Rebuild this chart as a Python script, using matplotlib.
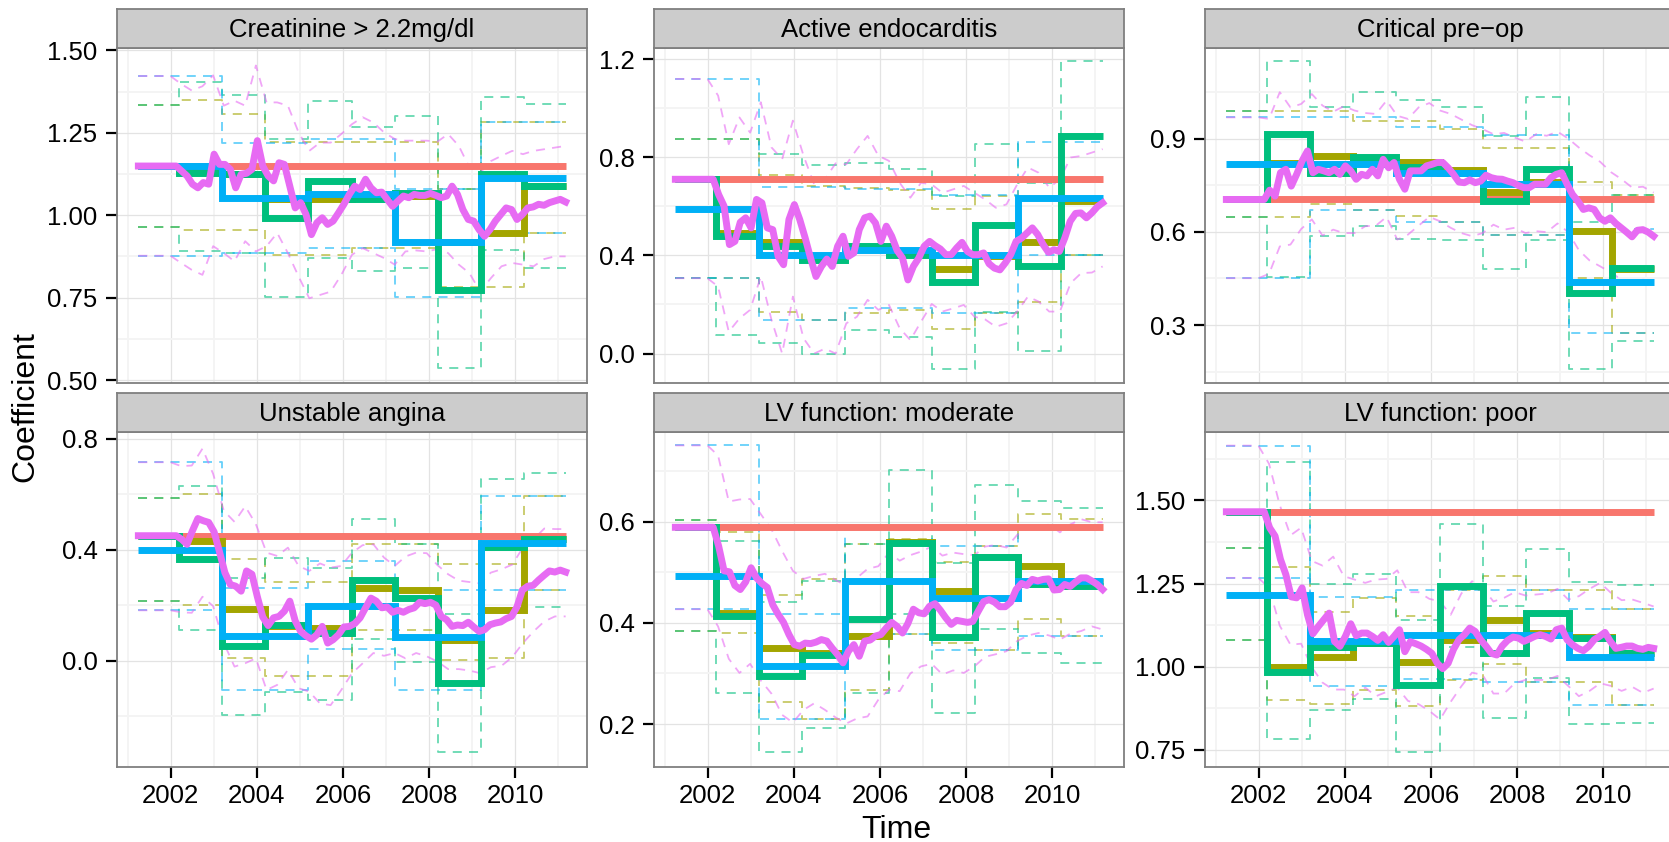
import numpy as np
import matplotlib
matplotlib.use('Agg')
import matplotlib.pyplot as plt

plt.rcParams['font.family'] = ['Liberation Sans', 'DejaVu Sans']

# time span of the monitoring data and the yearly refit dates
t_start, t_end = 2001.25, 2011.17
refits = [2001.25, 2002.2, 2003.2, 2004.2, 2005.2, 2006.2, 2007.2, 2008.2, 2009.2, 2010.2, 2011.17]

titles = ['Creatinine > 2.2mg/dl', 'Active endocarditis', 'Critical pre\u2212op',
          'Unstable angina', 'LV function: moderate', 'LV function: poor']

# constant (original) coefficient
red_level = [1.149, 0.710, 0.704, 0.45, 0.589, 1.466]

# step estimates, one value per refit period
olive = [
    [1.149, 1.144, 1.124, 1.048, 1.048, 1.053, 1.058, 0.918, 0.946, 1.088],
    [0.71, 0.491, 0.453, 0.396, 0.426, 0.41, 0.344, 0.396, 0.453, 0.62],
    [0.704, 0.82, 0.844, 0.83, 0.823, 0.80, 0.728, 0.76, 0.602, 0.48],
    [0.45, 0.43, 0.186, 0.123, 0.117, 0.262, 0.256, 0.075, 0.181, 0.437],
    [0.589, 0.42, 0.35, 0.34, 0.374, 0.56, 0.463, 0.53, 0.513, 0.48],
    [1.466, 1.0, 1.03, 1.07, 1.015, 1.08, 1.141, 1.1, 1.09, 1.04],
]
green = [
    [1.149, 1.129, 1.124, 0.992, 1.104, 1.048, 1.068, 0.773, 1.124, 1.088],
    [0.71, 0.481, 0.437, 0.38, 0.437, 0.403, 0.29, 0.522, 0.355, 0.885],
    [0.704, 0.914, 0.79, 0.839, 0.81, 0.79, 0.699, 0.801, 0.403, 0.483],
    [0.45, 0.365, 0.051, 0.129, 0.099, 0.292, 0.226, -0.082, 0.41, 0.437],
    [0.589, 0.413, 0.294, 0.337, 0.407, 0.558, 0.372, 0.531, 0.476, 0.473],
    [1.466, 0.985, 1.06, 1.07, 0.945, 1.244, 1.04, 1.161, 1.085, 1.04],
]
blue = [
    [1.149, 1.149, 1.053, 1.053, 1.063, 1.063, 0.918, 0.918, 1.114, 1.114],
    [0.587, 0.587, 0.403, 0.403, 0.423, 0.423, 0.403, 0.403, 0.635, 0.635],
    [0.817, 0.817, 0.817, 0.817, 0.788, 0.788, 0.753, 0.753, 0.44, 0.44],
    [0.399, 0.399, 0.087, 0.087, 0.198, 0.198, 0.085, 0.085, 0.425, 0.425],
    [0.493, 0.493, 0.314, 0.314, 0.483, 0.483, 0.45, 0.45, 0.483, 0.483],
    [1.217, 1.217, 1.076, 1.076, 1.096, 1.096, 1.096, 1.096, 1.03, 1.03],
]

# interval bounds of the step estimates
olive_hi = [
    [1.334, 1.35, 1.307, 1.221, 1.221, 1.221, 1.221, 1.08, 1.284, 1.284],
    [0.874, 0.874, 0.726, 0.683, 0.676, 0.666, 0.587, 0.642, 0.699, 0.7],
    [0.99, 0.99, 0.99, 0.955, 0.955, 0.93, 0.87, 0.87, 0.76, 0.72],
    [0.585, 0.6, 0.365, 0.284, 0.284, 0.419, 0.419, 0.347, 0.347, 0.592],
    [0.604, 0.58, 0.456, 0.486, 0.556, 0.566, 0.52, 0.552, 0.615, 0.605],
    [1.358, 1.3, 1.163, 1.207, 1.153, 1.232, 1.274, 1.232, 1.232, 1.173],
]
olive_lo = [
    [0.963, 0.956, 0.956, 0.88, 0.88, 0.9, 0.9, 0.782, 0.782, 0.946],
    [0.307, 0.307, 0.171, 0.137, 0.167, 0.178, 0.098, 0.164, 0.212, 0.403],
    [0.648, 0.648, 0.688, 0.67, 0.65, 0.63, 0.59, 0.59, 0.45, 0.276],
    [0.214, 0.2, 0.008, -0.056, -0.056, 0.109, 0.109, 0.003, 0.008, 0.254],
    [0.384, 0.38, 0.244, 0.209, 0.268, 0.379, 0.36, 0.347, 0.408, 0.374],
    [1.081, 0.9, 0.887, 0.929, 0.881, 0.96, 1.008, 0.955, 0.955, 0.884],
]
green_hi = [
    [1.334, 1.403, 1.363, 1.231, 1.347, 1.266, 1.3, 1.08, 1.358, 1.337],
    [0.874, 0.874, 0.812, 0.767, 0.778, 0.751, 0.642, 0.853, 0.696, 1.19],
    [0.99, 1.148, 1.0, 1.051, 1.025, 1.0, 0.909, 1.032, 0.63, 0.72],
    [0.585, 0.631, 0.298, 0.371, 0.335, 0.51, 0.419, 0.166, 0.653, 0.677],
    [0.604, 0.562, 0.441, 0.483, 0.556, 0.703, 0.519, 0.672, 0.642, 0.628],
    [1.358, 1.615, 1.25, 1.28, 1.139, 1.428, 1.183, 1.355, 1.254, 1.247],
]
green_lo = [
    [0.963, 0.89, 0.885, 0.753, 0.87, 0.83, 0.84, 0.535, 0.895, 0.84],
    [0.307, 0.075, 0.041, -0.003, 0.096, 0.066, -0.061, 0.171, 0.011, 0.403],
    [0.648, 0.456, 0.586, 0.618, 0.577, 0.575, 0.48, 0.575, 0.16, 0.25],
    [0.214, 0.109, -0.197, -0.112, -0.143, 0.077, -0.004, -0.33, 0.19, 0.193],
    [0.384, 0.261, 0.145, 0.192, 0.261, 0.417, 0.221, 0.387, 0.34, 0.321],
    [1.081, 0.783, 0.869, 0.904, 0.743, 1.06, 0.844, 0.967, 0.827, 0.829],
]
blue_hi = [
    [1.422, 1.422, 1.22, 1.22, 1.231, 1.231, 1.078, 1.078, 1.284, 1.284],
    [1.119, 1.119, 0.68, 0.68, 0.669, 0.669, 0.648, 0.648, 0.863, 0.863],
    [0.968, 0.968, 0.968, 0.968, 0.937, 0.937, 0.91, 0.91, 0.61, 0.61],
    [0.715, 0.715, 0.262, 0.262, 0.359, 0.359, 0.254, 0.254, 0.592, 0.592],
    [0.751, 0.751, 0.417, 0.417, 0.585, 0.585, 0.552, 0.552, 0.591, 0.591],
    [1.665, 1.665, 1.21, 1.21, 1.232, 1.232, 1.232, 1.232, 1.173, 1.173],
]
blue_lo = [
    [0.877, 0.877, 0.885, 0.885, 0.9, 0.9, 0.753, 0.753, 0.946, 0.946],
    [0.307, 0.307, 0.137, 0.137, 0.184, 0.184, 0.164, 0.164, 0.403, 0.403],
    [0.451, 0.451, 0.67, 0.67, 0.63, 0.63, 0.59, 0.59, 0.276, 0.276],
    [0.181, 0.181, -0.105, -0.105, 0.041, 0.041, -0.105, -0.105, 0.256, 0.256],
    [0.427, 0.427, 0.209, 0.209, 0.379, 0.379, 0.347, 0.347, 0.375, 0.375],
    [1.267, 1.267, 0.942, 0.942, 0.962, 0.962, 0.955, 0.955, 0.884, 0.884],
]

# continuously updated estimate (evenly spaced over the data span)
magenta = [
    [1.149] * 8 + [1.134, 1.119, 1.094, 1.083, 1.099, 1.094, 1.185, 1.154, 1.154, 1.139, 1.083, 1.124, 1.127,
                   1.139, 1.226, 1.149, 1.119, 1.104, 1.159, 1.154, 1.088, 1.022, 1.038, 1.002, 0.941, 0.977,
                   0.992, 0.972, 0.982, 1.007, 1.033, 1.063, 1.088, 1.078, 1.109, 1.083, 1.068, 1.07, 1.048,
                   1.027, 1.043, 1.058, 1.053, 1.063, 1.06, 1.06, 1.066, 1.06, 1.053, 1.058, 1.088, 1.063,
                   1.017, 0.987, 0.982, 0.956, 0.936, 0.956, 0.982, 1.002, 1.022, 1.017, 0.987, 1.002, 1.022,
                   1.025, 1.033, 1.03, 1.038, 1.043, 1.048, 1.04],
    [0.71] * 8 + [0.648, 0.601, 0.444, 0.457, 0.535, 0.553, 0.512, 0.628, 0.614, 0.512, 0.505, 0.396, 0.362,
                  0.546, 0.607, 0.546, 0.471, 0.389, 0.314, 0.355, 0.385, 0.355, 0.437, 0.478, 0.396, 0.41,
                  0.505, 0.553, 0.56, 0.532, 0.457, 0.519, 0.478, 0.42, 0.389, 0.3, 0.355, 0.389, 0.437, 0.457,
                  0.44, 0.426, 0.403, 0.403, 0.43, 0.453, 0.416, 0.403, 0.403, 0.41, 0.366, 0.348, 0.341, 0.369,
                  0.403, 0.457, 0.47, 0.491, 0.512, 0.485, 0.444, 0.412, 0.423, 0.416, 0.471, 0.539, 0.571,
                  0.573, 0.553, 0.573, 0.598, 0.614],
    [0.704] * 8 + [0.734, 0.715, 0.79, 0.801, 0.747, 0.785, 0.828, 0.86, 0.79, 0.801, 0.796, 0.79, 0.801,
                   0.785, 0.812, 0.796, 0.769, 0.785, 0.78, 0.801, 0.78, 0.833, 0.806, 0.823, 0.769, 0.737,
                   0.796, 0.796, 0.796, 0.812, 0.817, 0.823, 0.823, 0.806, 0.785, 0.76, 0.758, 0.767, 0.758,
                   0.763, 0.782, 0.774, 0.77, 0.769, 0.763, 0.758, 0.749, 0.742, 0.742, 0.753, 0.753, 0.753,
                   0.774, 0.785, 0.79, 0.753, 0.72, 0.699, 0.672, 0.677, 0.672, 0.645, 0.634, 0.645, 0.627,
                   0.613, 0.599, 0.584, 0.605, 0.607, 0.599, 0.586],
    [0.45] * 8 + [0.437, 0.419, 0.468, 0.512, 0.504, 0.498, 0.464, 0.392, 0.317, 0.274, 0.268, 0.25, 0.323,
                  0.311, 0.23, 0.157, 0.126, 0.154, 0.159, 0.178, 0.214, 0.143, 0.105, 0.089, 0.077, 0.093,
                  0.123, 0.063, 0.075, 0.093, 0.121, 0.123, 0.133, 0.154, 0.19, 0.225, 0.214, 0.19, 0.193,
                  0.174, 0.181, 0.174, 0.184, 0.19, 0.21, 0.205, 0.21, 0.2, 0.159, 0.147, 0.123, 0.128, 0.126,
                  0.138, 0.121, 0.105, 0.111, 0.129, 0.135, 0.139, 0.151, 0.159, 0.193, 0.254, 0.268, 0.271,
                  0.29, 0.307, 0.323, 0.319, 0.326, 0.319],
    [0.589] * 8 + [0.552, 0.503, 0.501, 0.474, 0.466, 0.481, 0.509, 0.489, 0.478, 0.47, 0.436, 0.417, 0.401,
                   0.377, 0.357, 0.354, 0.36, 0.359, 0.362, 0.367, 0.364, 0.35, 0.337, 0.321, 0.344, 0.357,
                   0.334, 0.364, 0.366, 0.374, 0.377, 0.39, 0.401, 0.393, 0.38, 0.399, 0.427, 0.42, 0.418,
                   0.433, 0.438, 0.425, 0.41, 0.397, 0.405, 0.403, 0.401, 0.403, 0.423, 0.442, 0.446, 0.441,
                   0.432, 0.432, 0.441, 0.466, 0.478, 0.474, 0.486, 0.483, 0.486, 0.487, 0.465, 0.466, 0.476,
                   0.472, 0.481, 0.489, 0.489, 0.483, 0.476, 0.466],
    [1.466] * 8 + [1.418, 1.393, 1.323, 1.277, 1.21, 1.207, 1.237, 1.156, 1.099, 1.121, 1.141, 1.161, 1.076,
                   1.061, 1.091, 1.129, 1.093, 1.101, 1.101, 1.091, 1.079, 1.096, 1.073, 1.091, 1.111, 1.045,
                   1.075, 1.069, 1.062, 1.052, 1.04, 1.01, 0.994, 1.01, 1.052, 1.081, 1.096, 1.116, 1.106,
                   1.081, 1.062, 1.04, 1.035, 1.062, 1.079, 1.089, 1.086, 1.076, 1.083, 1.091, 1.096, 1.091,
                   1.083, 1.111, 1.116, 1.081, 1.066, 1.055, 1.048, 1.061, 1.081, 1.091, 1.103, 1.076, 1.055,
                   1.058, 1.062, 1.062, 1.055, 1.052, 1.058, 1.055],
]
magenta_hi = [
    [1.422, 1.422, 1.422, 1.422, 1.398, 1.378, 1.391, 1.424, 1.332, 1.347, 1.332, 1.454, 1.342, 1.342, 1.332,
     1.251, 1.195, 1.22, 1.22, 1.246, 1.276, 1.297, 1.281, 1.251, 1.231, 1.226, 1.226, 1.226, 1.223, 1.246,
     1.21, 1.144, 1.129, 1.164, 1.18, 1.195, 1.185, 1.195, 1.2, 1.205, 1.21],
    [1.119, 1.119, 1.119, 1.119, 1.051, 0.853, 0.962, 0.9, 1.024, 0.84, 0.792, 0.949, 0.806, 0.689, 0.71,
     0.775, 0.771, 0.833, 0.887, 0.806, 0.785, 0.696, 0.635, 0.696, 0.689, 0.655, 0.669, 0.683, 0.655, 0.628,
     0.594, 0.608, 0.689, 0.758, 0.737, 0.676, 0.71, 0.799, 0.805, 0.819, 0.833],
    [0.968, 0.968, 0.968, 0.968, 0.963, 1.049, 1.0, 1.011, 1.043, 1.006, 0.986, 1.004, 0.99, 0.982, 0.979,
     1.022, 0.973, 0.963, 1.0, 1.014, 0.99, 0.979, 0.961, 0.943, 0.93, 0.914, 0.918, 0.903, 0.89, 0.914,
     0.909, 0.922, 0.9, 0.871, 0.846, 0.825, 0.792, 0.769, 0.742, 0.745, 0.726],
    [0.715, 0.715, 0.715, 0.715, 0.701, 0.703, 0.764, 0.673, 0.54, 0.5, 0.556, 0.492, 0.389, 0.377, 0.407,
     0.341, 0.323, 0.35, 0.335, 0.341, 0.389, 0.416, 0.419, 0.371, 0.341, 0.375, 0.389, 0.387, 0.344, 0.311,
     0.288, 0.283, 0.278, 0.317, 0.329, 0.346, 0.407, 0.437, 0.476, 0.474, 0.474],
    [0.751, 0.751, 0.751, 0.751, 0.731, 0.64, 0.644, 0.645, 0.615, 0.585, 0.542, 0.503, 0.487, 0.493, 0.497,
     0.485, 0.473, 0.489, 0.507, 0.512, 0.539, 0.523, 0.534, 0.541, 0.551, 0.533, 0.539, 0.536, 0.534, 0.551,
     0.554, 0.549, 0.574, 0.587, 0.585, 0.595, 0.579, 0.595, 0.605, 0.599, 0.599],
    [1.665, 1.665, 1.665, 1.665, 1.61, 1.486, 1.395, 1.418, 1.318, 1.304, 1.331, 1.272, 1.262, 1.252, 1.262,
     1.264, 1.29, 1.224, 1.224, 1.204, 1.196, 1.156, 1.22, 1.257, 1.237, 1.196, 1.207, 1.224, 1.214, 1.217,
     1.22, 1.234, 1.202, 1.212, 1.234, 1.252, 1.222, 1.2, 1.202, 1.192, 1.181],
]
magenta_lo = [
    [0.877, 0.877, 0.877, 0.877, 0.855, 0.834, 0.819, 0.906, 0.885, 0.86, 0.921, 0.89, 0.906, 0.946, 0.885,
     0.814, 0.748, 0.758, 0.768, 0.819, 0.88, 0.9, 0.885, 0.87, 0.85, 0.89, 0.893, 0.89, 0.897, 0.885,
     0.85, 0.824, 0.768, 0.809, 0.845, 0.855, 0.85, 0.845, 0.867, 0.875, 0.875],
    [0.307, 0.307, 0.307, 0.307, 0.273, 0.089, 0.143, 0.178, 0.314, 0.137, 0.0, 0.232, 0.062, 0.0, 0.02,
     0.0, 0.123, 0.15, 0.219, 0.178, 0.198, 0.103, 0.055, 0.13, 0.202, 0.171, 0.184, 0.198, 0.15, 0.139,
     0.109, 0.123, 0.171, 0.232, 0.212, 0.171, 0.171, 0.287, 0.328, 0.33, 0.355],
    [0.451, 0.451, 0.451, 0.451, 0.465, 0.553, 0.559, 0.609, 0.64, 0.588, 0.607, 0.596, 0.596, 0.618, 0.62,
     0.648, 0.575, 0.591, 0.62, 0.648, 0.634, 0.613, 0.596, 0.586, 0.596, 0.623, 0.607, 0.613, 0.596, 0.602,
     0.599, 0.627, 0.599, 0.541, 0.508, 0.489, 0.469, 0.446, 0.437, 0.446, 0.44],
    [0.181, 0.181, 0.181, 0.181, 0.174, 0.172, 0.23, 0.196, 0.063, -0.022, -0.01, 0.008, -0.106, -0.088,
     -0.034, -0.1, -0.112, -0.155, -0.161, -0.106, -0.046, -0.01, 0.027, 0.017, 0.027, 0.008, 0.027, 0.015,
     -0.004, -0.031, -0.031, -0.036, -0.046, -0.024, -0.019, 0.012, 0.063, 0.105, 0.141, 0.159, 0.159],
    [0.427, 0.427, 0.427, 0.427, 0.393, 0.329, 0.301, 0.319, 0.286, 0.26, 0.218, 0.203, 0.228, 0.241, 0.228,
     0.213, 0.201, 0.211, 0.215, 0.248, 0.268, 0.265, 0.3, 0.314, 0.319, 0.298, 0.306, 0.301, 0.314, 0.333,
     0.338, 0.344, 0.364, 0.375, 0.38, 0.375, 0.367, 0.379, 0.384, 0.393, 0.387],
    [1.267, 1.267, 1.267, 1.267, 1.237, 1.123, 1.066, 1.069, 0.998, 0.952, 0.931, 0.931, 0.911, 0.937, 0.911,
     0.924, 0.937, 0.897, 0.887, 0.867, 0.841, 0.894, 0.941, 0.982, 0.975, 0.919, 0.919, 0.95, 0.96, 0.96,
     0.96, 0.972, 0.942, 0.911, 0.927, 0.95, 0.942, 0.927, 0.939, 0.921, 0.934],
]

# axis settings per panel
y_limits = [(0.491, 1.507), (-0.120, 1.245), (0.114, 1.191), (-0.384, 0.824), (0.115, 0.7775), (0.698, 1.706)]
y_ticks = [[0.5, 0.75, 1.0, 1.25, 1.5], [0.0, 0.4, 0.8, 1.2], [0.3, 0.6, 0.9],
           [0.0, 0.4, 0.8], [0.2, 0.4, 0.6], [0.75, 1.0, 1.25, 1.5]]
y_labels = [['0.50', '0.75', '1.00', '1.25', '1.50'], ['0.0', '0.4', '0.8', '1.2'], ['0.3', '0.6', '0.9'],
            ['0.0', '0.4', '0.8'], ['0.2', '0.4', '0.6'], ['0.75', '1.00', '1.25', '1.50']]
x_ticks = [2002, 2004, 2006, 2008, 2010]
x_minor = [2001, 2003, 2005, 2007, 2009, 2011]

RED, OLIVE, GREEN, BLUE, MAGENTA = '#F8766D', '#A3A500', '#00BF7D', '#00B0F6', '#E76BF3'

W, H = 1669, 842
fig = plt.figure(figsize=(W / 100, H / 100), dpi=100)
fig.patch.set_facecolor('white')

col_left = [117, 654, 1205]
panel_w = 470
strip_top = [9, 393]
panel_top = [48, 432]
panel_bot = [383, 767]


def draw_steps(ax, vals, color, **kw):
    ax.plot(refits, list(vals) + [vals[-1]], drawstyle='steps-post', color=color, **kw)


dash_kw = dict(lw=1.3, linestyle=(0, (5, 4)), alpha=0.6, zorder=2)
solid_kw = dict(lw=5.0, solid_capstyle='butt', solid_joinstyle='miter', zorder=3)

for k in range(6):
    r, c = divmod(k, 3)
    L = col_left[c]
    ax = fig.add_axes([L / W, 1 - panel_bot[r] / H, panel_w / W, (panel_bot[r] - panel_top[r]) / H])
    sx = fig.add_axes([L / W, 1 - panel_top[r] / H, panel_w / W, (panel_top[r] - strip_top[r]) / H])

    # strip
    sx.set_facecolor('#CCCCCC')
    sx.set_xticks([])
    sx.set_yticks([])
    for s in sx.spines.values():
        s.set_color('#7F7F7F')
        s.set_linewidth(1.3)
    sx.text(0.5, 0.47, titles[k], ha='center', va='center', fontsize=18.5, transform=sx.transAxes)

    # intervals
    t_mag = np.linspace(t_start, t_end, len(magenta[k]))
    t_ci = np.linspace(t_start, t_end, len(magenta_hi[k]))
    for hi, lo, col in [(olive_hi, olive_lo, OLIVE), (green_hi, green_lo, GREEN), (blue_hi, blue_lo, BLUE)]:
        draw_steps(ax, hi[k], col, **dash_kw)
        draw_steps(ax, lo[k], col, **dash_kw)
    ax.plot(t_ci, magenta_hi[k], color=MAGENTA, **dash_kw)
    ax.plot(t_ci, magenta_lo[k], color=MAGENTA, **dash_kw)

    # estimates
    ax.hlines(red_level[k], t_start, t_end, color=RED, lw=5.0, zorder=3)
    draw_steps(ax, olive[k], OLIVE, **solid_kw)
    draw_steps(ax, green[k], GREEN, **solid_kw)
    draw_steps(ax, blue[k], BLUE, **solid_kw)
    ax.plot(t_mag, magenta[k], color=MAGENTA, lw=5.0, solid_joinstyle='round', zorder=4)

    ax.set_xlim(2000.754, 2011.666)
    ax.set_xticks(x_ticks)
    ax.set_xticks(x_minor, minor=True)
    yt = y_ticks[k]
    step = yt[1] - yt[0]
    ym = [yt[0] - step / 2] + [(a + b) / 2 for a, b in zip(yt[:-1], yt[1:])] + [yt[-1] + step / 2]
    ax.set_yticks(yt)
    ax.set_yticklabels(y_labels[k])
    ax.set_yticks(ym, minor=True)
    ax.set_ylim(*y_limits[k])

    ax.set_axisbelow(True)
    ax.grid(which='major', color='#E3E3E3', lw=0.9)
    ax.grid(which='minor', color='#F4F4F4', lw=1.4)
    for s in ax.spines.values():
        s.set_color('#7F7F7F')
        s.set_linewidth(1.3)
    ax.tick_params(which='minor', length=0)
    ax.tick_params(axis='y', which='major', length=8, width=1.6, color='black', labelsize=18.5, pad=6)
    if r == 0:
        ax.tick_params(axis='x', which='both', length=0, labelbottom=False)
    else:
        ax.tick_params(axis='x', which='major', length=8, width=1.6, color='black', labelsize=18.5, pad=4)

fig.text(896 / W, 4 / H, 'Time', ha='center', va='baseline', fontsize=23)
fig.text(25 / W, 1 - 407 / H, 'Coefficient', ha='center', va='center', rotation=90, fontsize=23)

fig.savefig('out.png', dpi=100)
